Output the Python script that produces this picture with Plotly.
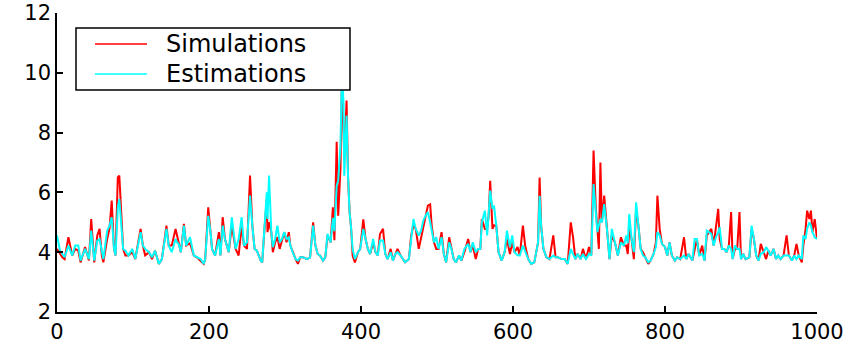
import plotly.graph_objects as go

# sample index (time step) at which values were read
t = [0, 4, 7, 10, 15, 20, 24, 28, 31, 37, 42, 45, 49, 53, 56, 59, 61, 66, 69, 72,
     75, 77, 80, 82, 84, 87, 90, 94, 99, 103, 110, 113, 116, 121, 125, 129, 134, 138, 144, 147,
     151, 156, 158, 160, 163, 167, 170, 175, 180, 184, 189, 193, 195, 199, 202, 204, 208, 213, 215, 218,
     221, 226, 230, 235, 239, 243, 246, 250, 254, 257, 260, 263, 268, 270, 273, 276, 277, 279, 282, 284,
     287, 290, 293, 296, 299, 302, 305, 307, 310, 314, 317, 320, 324, 329, 333, 337, 340, 343, 346, 350,
     353, 356, 360, 363, 365, 368, 370, 373, 375, 377, 378, 381, 383, 385, 387, 389, 392, 396, 399, 403,
     406, 409, 412, 416, 419, 422, 425, 429, 432, 435, 439, 442, 445, 448, 452, 455, 458, 463, 466, 469,
     472, 476, 479, 482, 485, 488, 491, 493, 496, 499, 502, 506, 509, 512, 516, 519, 522, 525, 529, 532,
     536, 541, 544, 547, 551, 554, 557, 559, 563, 566, 568, 570, 573, 575, 578, 581, 585, 589, 592, 596,
     599, 602, 606, 609, 613, 616, 620, 624, 628, 633, 635, 637, 640, 644, 648, 653, 656, 659, 664, 668,
     672, 676, 679, 682, 685, 689, 692, 696, 700, 703, 706, 709, 711, 713, 715, 717, 720, 724, 727, 730,
     734, 738, 742, 746, 749, 751, 753, 756, 759, 762, 765, 768, 771, 774, 778, 781, 785, 788, 790, 793,
     796, 800, 803, 806, 809, 813, 816, 820, 825, 828, 831, 836, 839, 842, 845, 849, 852, 855, 858, 861,
     864, 867, 870, 872, 875, 878, 881, 884, 887, 889, 892, 895, 898, 900, 903, 906, 911, 914, 917, 920,
     923, 926, 930, 933, 936, 939, 943, 946, 949, 952, 956, 960, 963, 967, 970, 973, 976, 980, 982, 985,
     987, 990, 992, 994, 997, 1000]

simulations = [4.11, 3.94, 3.83, 3.77, 4.50, 3.89, 4.11, 4.05, 3.66, 4.17, 3.72, 5.11, 3.66, 4.56, 4.78, 3.89, 3.66, 4.44, 4.78, 5.73,
     4.11, 3.89, 6.50, 6.56, 5.45, 4.11, 3.89, 3.89, 4.00, 3.77, 4.78, 4.22, 3.89, 4.00, 3.77, 4.05, 3.61, 3.77, 4.89, 4.22,
     4.22, 4.78, 4.56, 4.28, 4.00, 4.95, 4.22, 4.30, 3.89, 3.83, 3.72, 3.61, 3.77, 5.50, 4.67, 4.11, 3.89, 4.67, 3.89, 5.17,
     4.44, 4.00, 4.89, 4.11, 3.89, 4.89, 4.22, 4.11, 6.56, 4.89, 4.11, 4.05, 3.72, 3.66, 4.78, 5.78, 4.67, 5.00, 4.67, 4.00,
     4.33, 4.50, 4.11, 4.44, 4.67, 4.33, 4.67, 4.22, 4.00, 3.77, 3.61, 3.83, 3.83, 3.77, 3.83, 5.00, 4.22, 3.94, 3.89, 3.72,
     3.83, 4.56, 4.33, 5.50, 4.40, 7.69, 5.22, 6.80, 9.90, 7.50, 7.10, 9.07, 6.50, 5.34, 4.80, 3.88, 3.66, 4.00, 4.11, 5.10,
     4.44, 4.11, 3.94, 4.33, 4.00, 3.89, 4.61, 4.78, 3.94, 3.77, 4.11, 3.72, 3.89, 4.11, 3.89, 3.77, 3.66, 3.77, 4.56, 4.89,
     4.78, 4.11, 4.50, 4.89, 5.22, 5.56, 5.60, 4.89, 4.33, 4.11, 4.11, 4.67, 3.94, 3.66, 4.50, 4.11, 3.77, 3.66, 3.89, 3.72,
     4.00, 4.44, 4.00, 4.22, 3.77, 4.11, 4.11, 5.11, 4.78, 4.78, 5.22, 6.39, 4.78, 4.90, 4.89, 4.00, 3.72, 4.00, 4.44, 3.94,
     4.33, 4.00, 4.17, 3.89, 4.89, 4.22, 3.77, 3.61, 3.66, 4.33, 6.50, 4.89, 4.11, 3.83, 3.77, 4.56, 3.83, 3.83, 3.77, 3.77,
     3.61, 5.00, 4.50, 3.77, 3.94, 3.77, 4.11, 3.77, 4.17, 3.89, 7.40, 5.45, 4.67, 4.11, 7.00, 5.00, 5.89, 4.67, 3.77, 4.56,
     4.33, 3.89, 4.50, 4.22, 4.22, 3.94, 4.78, 4.44, 3.77, 5.45, 4.89, 4.11, 4.00, 3.83, 3.61, 3.72, 3.94, 4.33, 5.89, 4.78,
     4.28, 4.17, 3.89, 4.33, 3.89, 3.72, 3.83, 3.77, 4.50, 3.77, 3.94, 3.72, 4.05, 4.44, 3.89, 4.22, 3.72, 4.56, 4.67, 4.78,
     4.22, 4.89, 5.45, 4.44, 4.11, 4.11, 4.00, 4.22, 5.34, 3.77, 4.11, 4.11, 5.34, 3.77, 3.94, 3.77, 3.83, 4.78, 4.44, 3.89,
     3.72, 4.28, 4.00, 3.77, 4.05, 3.89, 4.11, 3.77, 3.89, 3.77, 3.89, 4.56, 3.89, 3.72, 3.89, 4.28, 3.89, 3.66, 4.22, 4.78,
     5.39, 5.11, 5.39, 4.67, 5.11, 4.44]

estimations = [4.56, 4.05, 3.94, 3.83, 4.22, 3.89, 4.22, 4.22, 3.72, 4.11, 3.77, 4.72, 3.72, 4.39, 4.44, 3.94, 3.77, 4.72, 4.89, 5.17,
     4.11, 3.89, 5.50, 5.78, 5.11, 4.11, 4.05, 3.89, 4.11, 3.77, 4.67, 4.22, 4.11, 4.00, 3.83, 4.05, 3.61, 3.77, 4.78, 4.22,
     4.00, 4.44, 4.33, 4.28, 4.00, 4.89, 4.22, 4.50, 3.89, 3.83, 3.77, 3.61, 3.77, 5.22, 4.67, 4.11, 3.89, 4.44, 3.89, 4.89,
     4.44, 4.00, 5.17, 4.11, 4.44, 5.17, 4.22, 4.33, 5.89, 4.89, 4.11, 4.05, 3.72, 3.66, 5.00, 6.00, 5.11, 6.56, 4.67, 4.17,
     4.44, 4.89, 4.33, 4.44, 4.67, 4.44, 4.50, 4.22, 4.00, 3.77, 3.72, 3.83, 3.83, 3.77, 3.83, 4.89, 4.22, 3.94, 3.89, 3.72,
     3.83, 4.61, 4.33, 5.15, 4.70, 6.22, 6.40, 7.56, 10.10, 9.00, 6.56, 8.57, 6.50, 5.34, 4.80, 4.10, 3.77, 4.00, 4.11, 4.78,
     4.44, 4.11, 3.94, 4.44, 4.00, 3.89, 4.39, 4.39, 3.94, 3.77, 4.00, 3.72, 3.94, 4.00, 3.89, 3.77, 3.66, 3.77, 4.44, 5.11,
     4.78, 4.56, 4.72, 5.06, 5.22, 5.34, 5.00, 4.67, 4.33, 4.50, 4.11, 4.50, 3.94, 3.66, 4.33, 4.11, 3.77, 3.66, 3.89, 3.72,
     4.11, 4.28, 4.00, 4.33, 4.00, 4.11, 4.11, 5.00, 5.39, 4.56, 5.22, 6.06, 5.45, 5.56, 4.89, 4.00, 3.72, 4.00, 4.72, 4.17,
     4.56, 4.00, 3.90, 3.89, 4.22, 4.00, 3.77, 3.61, 3.66, 4.33, 5.89, 4.89, 4.11, 3.83, 3.77, 3.89, 3.83, 3.83, 3.77, 3.77,
     3.61, 4.11, 3.94, 3.77, 3.94, 3.77, 3.94, 3.77, 3.94, 3.89, 6.28, 5.45, 4.67, 4.90, 5.11, 5.00, 5.61, 4.67, 3.77, 4.78,
     4.33, 3.89, 4.33, 4.22, 4.56, 4.30, 5.28, 4.44, 4.00, 5.67, 4.89, 4.11, 3.89, 3.83, 3.66, 3.72, 3.94, 4.17, 4.67, 4.56,
     4.28, 4.17, 3.89, 4.33, 3.89, 3.72, 3.83, 3.77, 3.89, 3.77, 3.94, 3.72, 4.44, 4.44, 3.89, 3.94, 3.72, 4.72, 4.67, 4.61,
     4.22, 4.50, 4.67, 4.83, 4.11, 4.11, 4.00, 4.22, 4.11, 3.77, 4.22, 4.11, 4.11, 3.77, 3.94, 3.77, 3.83, 4.89, 4.44, 3.89,
     3.72, 3.94, 4.00, 4.17, 4.05, 3.89, 4.11, 3.77, 3.89, 3.77, 3.89, 3.89, 3.89, 3.72, 3.89, 3.77, 3.89, 3.77, 4.56, 4.44,
     4.78, 5.00, 4.89, 4.67, 4.50, 4.44]

series_names = ["Simulations", "Estimations"]
series_colors = ["#FF0000", "#00FFFF"]
x_ticks = [0, 200, 400, 600, 800, 1000]
y_ticks = [2, 4, 6, 8, 10, 12]

fig = go.Figure()
for name, vals, col in zip(series_names, [simulations, estimations], series_colors):
    fig.add_trace(go.Scatter(x=t, y=vals, mode="lines", name=name,
                             line=dict(color=col, width=2), showlegend=False))

font_family = "DejaVu Sans"

# legend drawn as a boxed key in paper coordinates (plot area 57..817 x 13..312 px)
L, R, T, B = 57, 817, 13, 312
def px(xp):
    return (xp - L) / (R - L)
def py(yp):
    return (B - yp) / (B - T)

shapes = [dict(type="rect", xref="paper", yref="paper",
               x0=px(76), x1=px(350), y0=py(90), y1=py(28),
               fillcolor="white", line=dict(color="black", width=1.5), layer="above")]
annotations = []
row_y = [44, 74]
for name, col, ry in zip(series_names, series_colors, row_y):
    shapes.append(dict(type="line", xref="paper", yref="paper",
                       x0=px(95), x1=px(147), y0=py(ry), y1=py(ry),
                       line=dict(color=col, width=1.5), layer="above"))
    annotations.append(dict(text=name, xref="paper", yref="paper",
                            x=px(165), y=py(ry), xanchor="left", yanchor="middle",
                            showarrow=False, borderpad=0,
                            font=dict(family=font_family, size=24, color="black")))

fig.update_layout(
    width=852, height=347,
    margin=dict(l=57, r=35, t=13, b=35),
    paper_bgcolor="white", plot_bgcolor="white",
    font=dict(family=font_family, size=21, color="black"),
    showlegend=False,
    shapes=shapes,
    annotations=annotations,
)
fig.update_xaxes(range=[0, 1000], tickvals=x_ticks, ticktext=[str(v) for v in x_ticks],
                 showline=True, linecolor="black", linewidth=1.5, mirror=False,
                 ticks="inside", ticklen=6, tickwidth=1.5, tickcolor="black",
                 showgrid=False, zeroline=False, automargin=False)
fig.update_yaxes(range=[2, 12], tickvals=y_ticks, ticktext=[str(v) for v in y_ticks],
                 showline=True, linecolor="black", linewidth=1.5, mirror=False,
                 ticks="inside", ticklen=6, tickwidth=1.5, tickcolor="black",
                 showgrid=False, zeroline=False, automargin=False)

fig.write_html("out.html")
